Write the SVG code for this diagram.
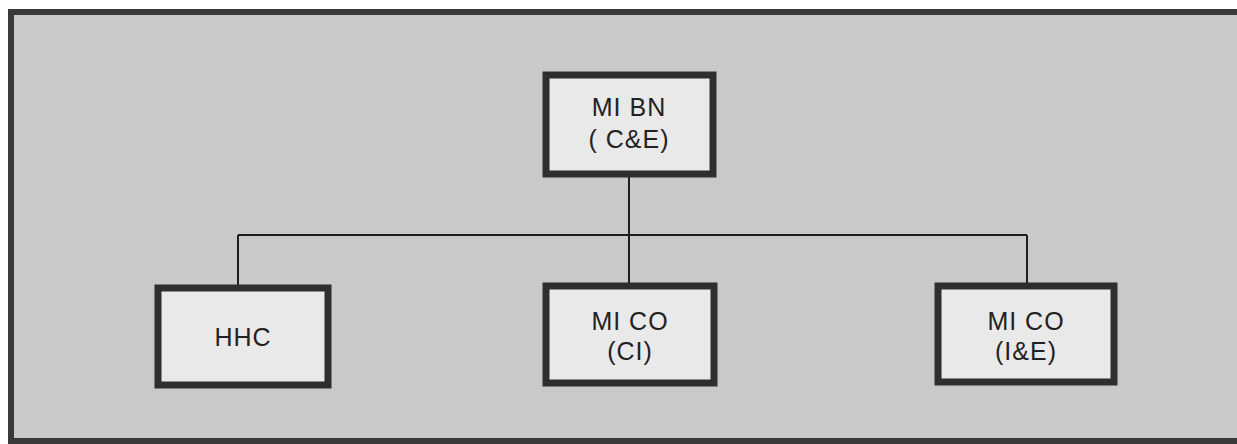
<svg xmlns="http://www.w3.org/2000/svg" width="1237" height="444" viewBox="0 0 1237 444">
<style>
.box{fill:#e9e9e9;stroke:#2e2e2e;stroke-width:7}
.lbl{font-family:"Liberation Sans",Arial,sans-serif;font-size:25px;fill:#222;text-anchor:middle;letter-spacing:1px}
.wire{stroke:#1e1e1e;stroke-width:2;fill:none}
</style>
<rect x="0" y="0" width="1237" height="444" fill="#ffffff"/>
<rect id="frame" x="11" y="12" width="1240" height="429" fill="#c9c9c9" stroke="#3a3a3a" stroke-width="6"/>
<g id="connectors">
<path class="wire" d="M629 175 V283"/>
<path class="wire" d="M238 235 H1027"/>
<path class="wire" d="M238 235 V285"/>
<path class="wire" d="M1027 235 V283"/>
</g>
<g id="mibn">
<rect class="box" x="546" y="75" width="167" height="99"/>
<text class="lbl" x="629" y="116">MI BN</text>
<text class="lbl" x="629" y="148">( C&amp;E)</text>
</g>
<g id="hhc">
<rect class="box" x="158" y="288" width="170" height="97"/>
<text class="lbl" x="243" y="346">HHC</text>
</g>
<g id="mico-ci">
<rect class="box" x="546" y="286" width="168" height="97"/>
<text class="lbl" x="630" y="330">MI CO</text>
<text class="lbl" x="630" y="360">(CI)</text>
</g>
<g id="mico-ie">
<rect class="box" x="938" y="286" width="176" height="96"/>
<text class="lbl" x="1026" y="330">MI CO</text>
<text class="lbl" x="1026" y="360">(I&amp;E)</text>
</g>
</svg>
